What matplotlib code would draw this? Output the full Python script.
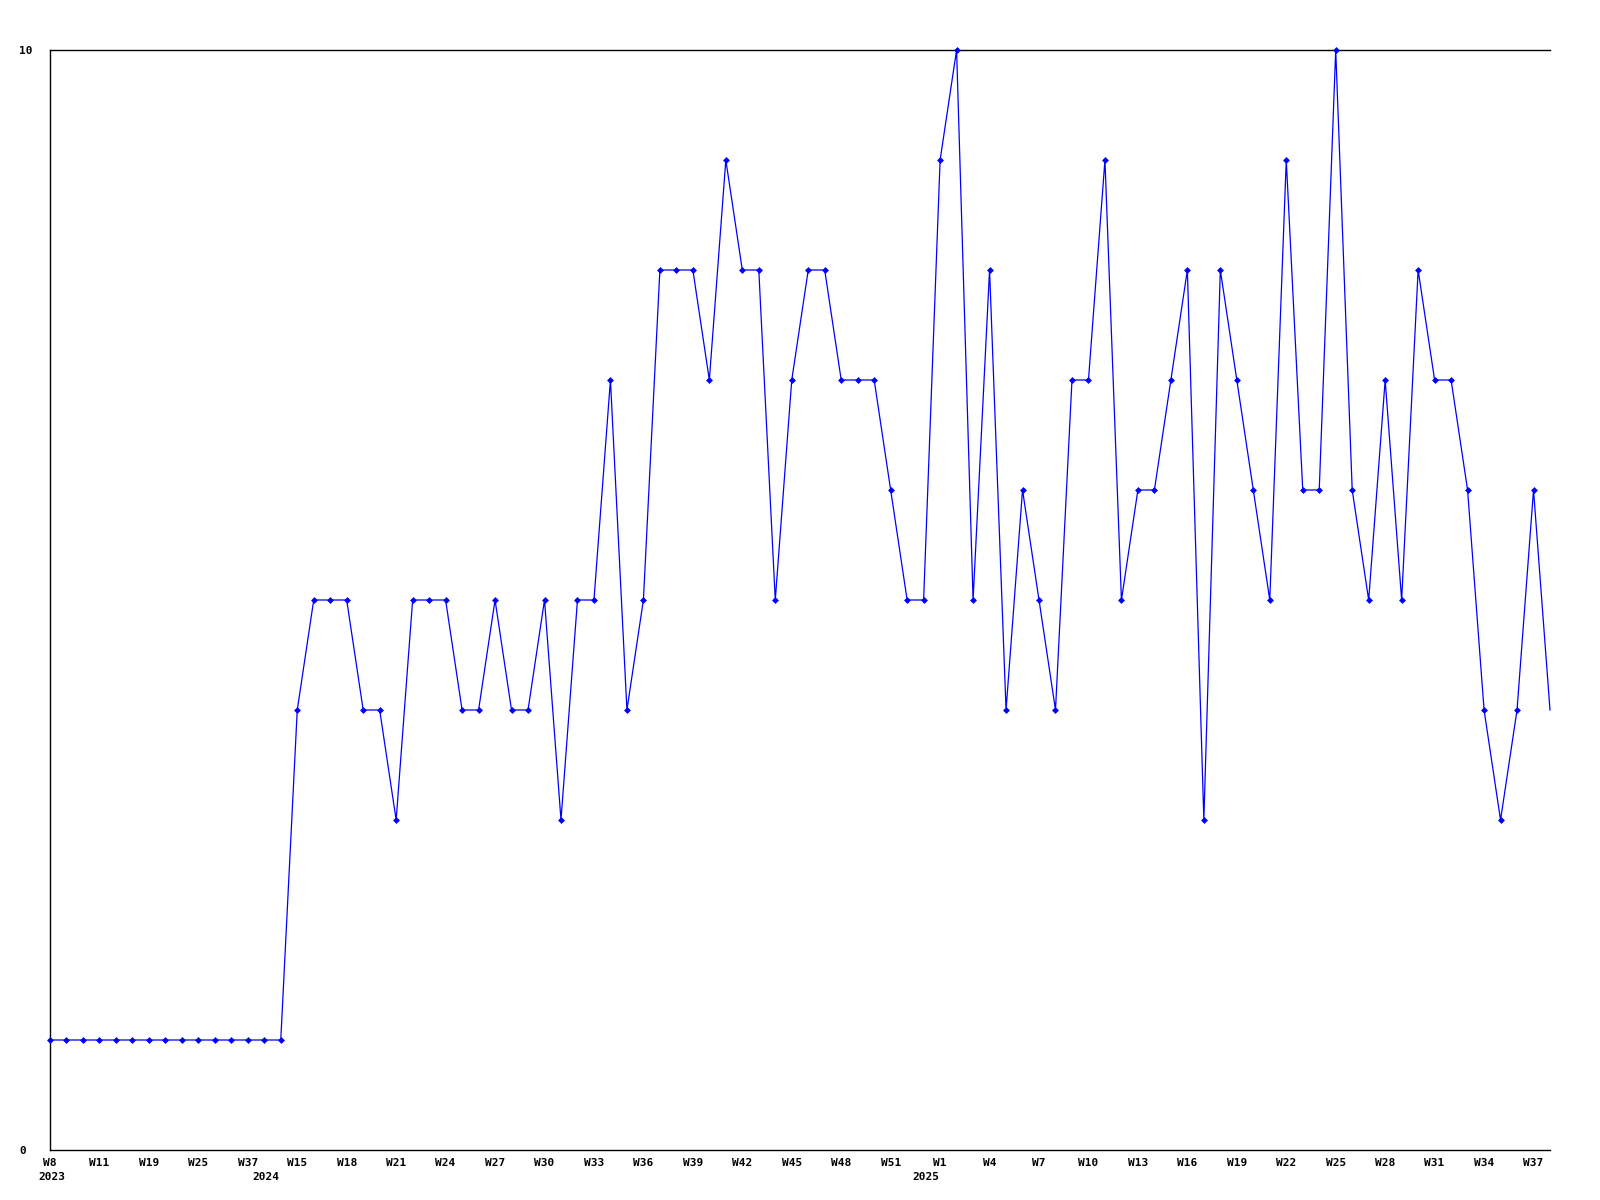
import matplotlib
matplotlib.use("Agg")
import matplotlib.pyplot as plt
import numpy as np

# Weekly values (one per point, evenly spaced categories)
values = [1, 1, 1, 1, 1, 1, 1, 1, 1, 1, 1, 1, 1, 1, 1,
          4, 5, 5, 5, 4, 4, 3, 5, 5, 5, 4, 4, 5, 4, 4,
          5, 3, 5, 5, 7, 4, 5, 8, 8, 8, 7, 9, 8, 8, 5,
          7, 8, 8, 7, 7, 7, 6, 5, 5, 9, 10, 5, 8, 4, 6,
          5, 4, 7, 7, 9, 5, 6, 6, 7, 8, 3, 8, 7, 6, 5,
          9, 6, 6, 10, 6, 5, 7, 5, 8, 7, 7, 6, 4, 3, 4,
          6, 4]

# Week tick positions (point index) and labels
tick_index = [0, 3, 6, 9, 12, 15, 18, 21, 24, 27, 30, 33, 36, 39, 42, 45, 48, 51,
              54, 57, 60, 63, 66, 69, 72, 75, 78, 81, 84, 87, 90]
tick_labels = ["W8", "W11", "W19", "W25", "W37", "W15", "W18", "W21",
               "W24", "W27", "W30", "W33", "W36", "W39", "W42", "W45", "W48", "W51",
               "W1", "W4", "W7", "W10", "W13", "W16", "W19", "W22", "W25",
               "W28", "W31", "W34", "W37"]

# Year labels at the first point of each year
year_index = [0, 13, 53]
year_labels = ["2023", "2024", "2025"]

y_ticks = [0, 10]
y_labels = ["0", "10"]

fig = plt.figure(figsize=(16, 12), dpi=100)
ax = fig.add_axes([50 / 1600, 50 / 1200, 1500 / 1600, 1100 / 1200])

x = np.arange(len(values))
ax.plot(x, values, color="#0000ff", linewidth=0.9,
        marker="D", markersize=3.0, markeredgewidth=0.5,
        markevery=list(range(len(values) - 1)), clip_on=False, zorder=3)

ax.set_xlim(0, len(values) - 1)
ax.set_ylim(0, 10)

for side in ["left", "top", "bottom"]:
    ax.spines[side].set_linewidth(1.0)
    ax.spines[side].set_color("black")
ax.spines["right"].set_visible(False)

font = dict(family="DejaVu Sans Mono", weight="bold", size=8)

ax.set_xticks(tick_index)
ax.set_xticklabels(tick_labels, fontdict=font)
ax.set_yticks(y_ticks)
ax.set_yticklabels(y_labels, fontdict=font)
for lbl in ax.get_yticklabels():
    lbl.set_horizontalalignment("left")
ax.tick_params(axis="x", length=0, pad=6)
ax.tick_params(axis="y", length=0, pad=22)

for idx, yl in zip(year_index, year_labels):
    ax.annotate(yl, xy=(idx, 0), xycoords=("data", "axes fraction"),
                xytext=(1.5, -19.5), textcoords="offset points",
                ha="center", va="center", annotation_clip=False, **font)

fig.savefig("out.png", dpi=100, facecolor="white")
